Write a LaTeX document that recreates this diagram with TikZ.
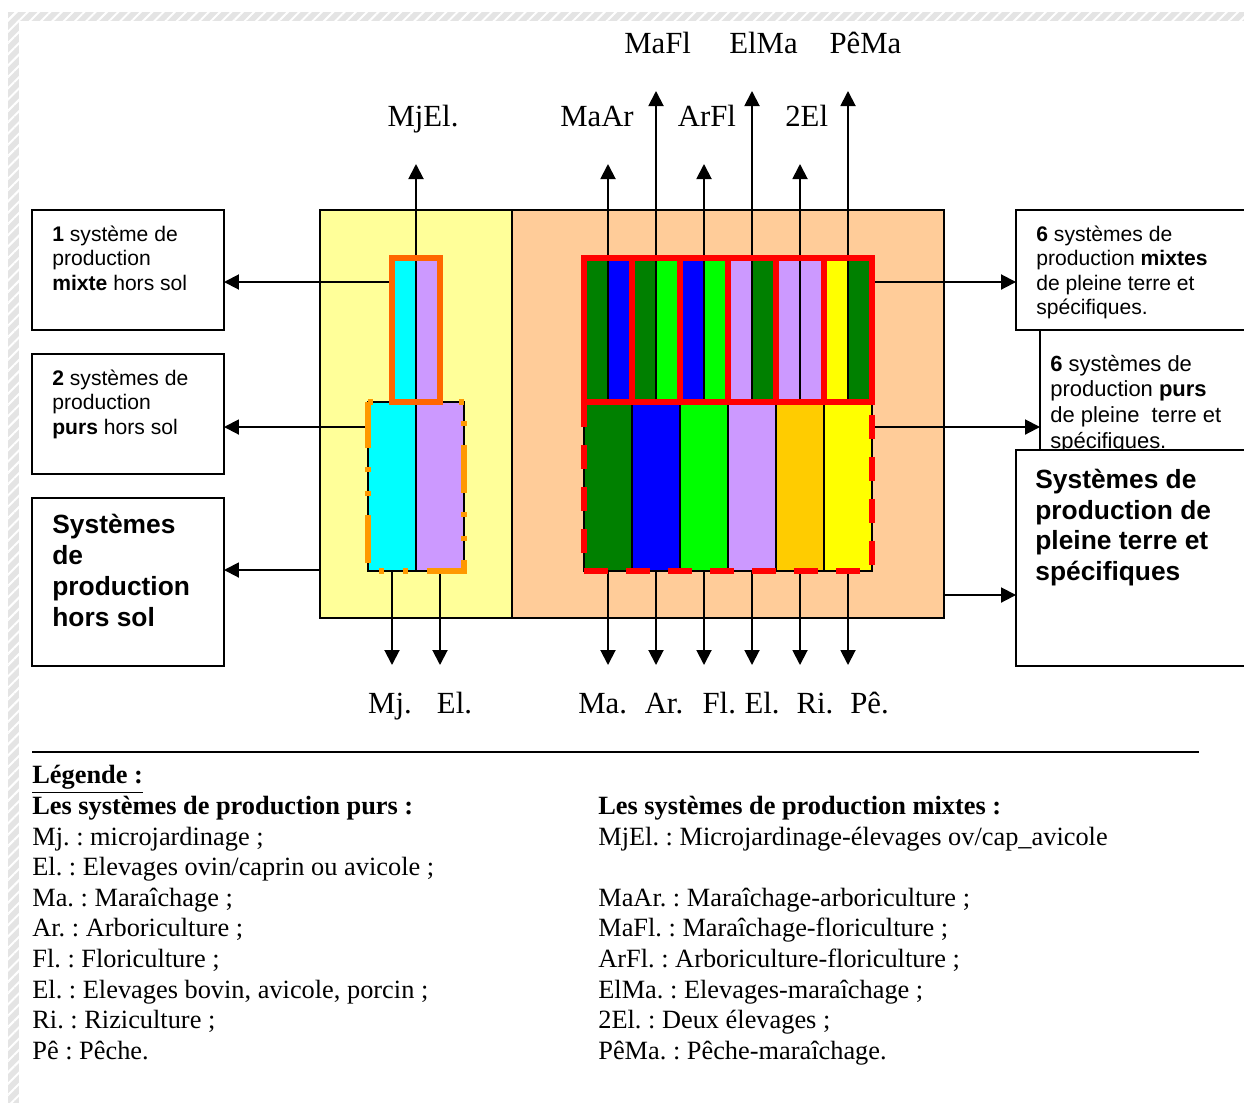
\documentclass[tikz,border=0pt]{standalone}
\usepackage{fontspec}
\setmainfont{Liberation Serif}
\setsansfont{Liberation Sans}
\usetikzlibrary{arrows.meta,patterns.meta,positioning,calc}
\frenchspacing

\definecolor{jauneclair}{HTML}{FFFF99}
\definecolor{peche}{HTML}{FFCC99}
\definecolor{cyanv}{HTML}{00FFFF}
\definecolor{lavande}{HTML}{CC99FF}
\definecolor{vertf}{HTML}{008000}
\definecolor{bleuv}{HTML}{0000FF}
\definecolor{vertc}{HTML}{00FF00}
\definecolor{ocre}{HTML}{FFCC00}
\definecolor{jaunev}{HTML}{FFFF00}
\definecolor{rougev}{HTML}{FF0000}
\definecolor{orangef}{HTML}{FF6600}
\definecolor{orangec}{HTML}{FF9900}
\definecolor{trame}{HTML}{E4E4E4}

\begin{document}
\begin{tikzpicture}[
    x=0.02cm, y=-0.02cm,
    fleche/.style={line width=1.1pt, -{Triangle[width=0.3cm,length=0.3cm]}},
    cadre/.style={draw=black, line width=1pt, inner sep=0pt, outer sep=0pt},
    colonne/.style={draw=black, line width=1.1pt},
    txtbox/.style={font=\sffamily\fontsize{12}{13.9}\selectfont, align=left, inner sep=0pt, anchor=base west},
    txtgras/.style={font=\sffamily\bfseries\fontsize{15}{17.5}\selectfont, align=left, inner sep=0pt, anchor=base west},
    etiq/.style={font=\fontsize{17.5}{20}\selectfont, inner sep=0pt, anchor=base},
    legende/.style={font=\fontsize{15}{17.4}\selectfont, align=left, inner sep=0pt, anchor=base west},
    bordrouge/.style={draw=rougev, line width=3.4pt},
    ]
    \useasboundingbox (0,0) rectangle (1244,1103);
    \clip (0,0) rectangle (1244,1103);
    \fill[white] (0,0) rectangle (1244,1103);

    % bordure de page hachuree
    \fill[trame] (8,12) rectangle (1244,21);
    \fill[trame] (8,12) rectangle (19,1103);
    \fill[pattern={Lines[angle=45,distance=0.16cm,line width=0.04cm]}, pattern color=white] (8,12) rectangle (1244,21);
    \fill[pattern={Lines[angle=45,distance=0.16cm,line width=0.04cm]}, pattern color=white] (8,12) rectangle (19,1103);

    % zones
    \node[cadre, fill=jauneclair, minimum width=3.84cm, minimum height=8.16cm] (zoneHS) at (416,414) {};
    \node[cadre, fill=peche, minimum width=8.64cm, minimum height=8.16cm] (zonePT) at (728,414) {};

    % cadres de gauche et de droite
    \node[cadre, minimum width=3.84cm, minimum height=2.4cm] (hsMixte) at (128,270) {};
    \node[cadre, minimum width=3.84cm, minimum height=2.4cm] (hsPurs) at (128,414) {};
    \node[cadre, minimum width=3.84cm, minimum height=3.36cm] (hsSys) at (128,582) {};
    \node[cadre, minimum width=5.08cm, minimum height=2.4cm] (ptMixte) at (1143,270) {};
    \node[cadre, minimum width=4.6cm, minimum height=2.4cm] (ptPurs) at (1155,390) {};
    \node[cadre, minimum width=5.08cm, minimum height=4.32cm] (ptSys) at (1143,558) {};

    % colonnes hors sol
    \fill[cyanv] (392,258) rectangle (416,402);
    \fill[lavande] (416,258) rectangle (440,402);
    \fill[cyanv] (368,402) rectangle (416,571);
    \fill[lavande] (416,402) rectangle (464,571);
    \draw[colonne] (368,402) rectangle (464,571);
    \draw[colonne] (416,402) -- (416,571);

    % colonnes de pleine terre
    \foreach \ga/\dr [count=\i from 0] in {vertf/bleuv, vertf/vertc, bleuv/vertc, lavande/vertf, lavande/lavande, jaunev/vertf}{
        \fill[\ga] ({584+48*\i},258) rectangle ({608+48*\i},402);
        \fill[\dr] ({608+48*\i},258) rectangle ({632+48*\i},402);
    }
    \foreach \c [count=\i from 0] in {vertf, bleuv, vertc, lavande, ocre, jaunev}
        \fill[\c] ({584+48*\i},402) rectangle ({632+48*\i},571);
    \draw[colonne] (584,402) rectangle (872,571);
    \foreach \x in {632,680,...,824}
        \draw[colonne] (\x,402) -- (\x,571);

    % fleches vers le haut
    \coordinate (bMjEl) at (416,402);
    \coordinate (hMjEl) at (416,164);
    \draw[fleche] (bMjEl) -- (hMjEl);
    \node[etiq] (lMjEl) at (423,126.7) {MjEl.};
    \foreach \nom/\txt/\x/\yh/\yl/\xl in {MaAr/MaAr/608/164/126.7/597, MaFl/MaFl/656/91/53.3/657.7, ArFl/ArFl/704/164/126.7/707, ElMa/ElMa/752/91/53.3/763.5, DeuxEl/2El/800/164/126.7/806.7, PeMa/PêMa/848/91/53.3/865.5}{
        \coordinate (b\nom) at (\x,402);
        \coordinate (h\nom) at (\x,\yh);
        \draw[fleche] (b\nom) -- (h\nom);
        \node[etiq] (l\nom) at (\xl,\yl) {\txt};
    }

    % fleches vers le bas
    \foreach \nom/\txt/\x/\xl in {Mj/Mj./392/390, El/El./440/454.5, Ma/Ma./608/602.7, Ar/Ar./656/664, Fl/Fl./704/719.3, Elb/El./752/762, Ri/Ri./800/815, Pe/Pê./848/869.6}{
        \coordinate (s\nom) at (\x,571);
        \coordinate (t\nom) at (\x,665);
        \draw[fleche] (s\nom) -- (t\nom);
        \node[etiq] (e\nom) at (\xl,713.3) {\txt};
    }

    % fleches laterales
    \coordinate (gMixte) at (392,282);
    \coordinate (gPurs) at (368,427);
    \coordinate (gSys) at (zoneHS.west |- 0,570);
    \coordinate (dMixte) at (872,282);
    \coordinate (dPurs) at (872,427);
    \coordinate (dSys) at (zonePT.east |- 0,595);
    \draw[fleche] (gMixte) -- (gMixte -| hsMixte.east);
    \draw[fleche] (gPurs) -- (gPurs -| hsPurs.east);
    \draw[fleche] (gSys) -- (gSys -| hsSys.east);
    \draw[fleche] (dMixte) -- (dMixte -| ptMixte.west);
    \draw[fleche] (dPurs) -- (dPurs -| ptPurs.west);
    \draw[fleche] (dSys) -- (dSys -| ptSys.west);

    % contours colores
    \draw[bordrouge, dash pattern=on 0.48cm off 0.36cm, dash phase=0.7cm] (584,402) -- (872,402) -- (872,571) -- (584,571) -- cycle;
    \draw[bordrouge] (584,258) rectangle (872,402);
    \foreach \x in {632,680,...,824}
        \draw[bordrouge] (\x,258) -- (\x,402);
    \draw[orangec, line width=3.4pt, dash pattern=on 0.96cm off 0.38cm on 0.1cm off 0.38cm on 0.1cm off 0.38cm, dash phase=1.82cm] (368,402) -- (464,402) -- (464,571) -- (368,571) -- cycle;
    \draw[orangef, line width=3.4pt] (392,258) rectangle (440,402);

    % textes des cadres (ancre sur la derniere ligne)
    \node[txtbox] (tMixte) at ([xshift=0.4cm, yshift=-1.6cm]hsMixte.north west) {\textbf{1} système de\\production\\\textbf{mixte} hors sol};
    \node[txtbox] (tPurs) at ([xshift=0.4cm, yshift=-1.6cm]hsPurs.north west) {\textbf{2} systèmes de\\production\\\textbf{purs} hors sol};
    \node[txtgras] (tSys) at ([xshift=0.4cm, yshift=-2.56cm]hsSys.north west) {Systèmes\\de\\production\\hors sol};
    \node[txtbox] (tptMixte) at ([xshift=0.4cm, yshift=-2.09cm]ptMixte.north west) {\textbf{6} systèmes de\\production \textbf{mixtes}\\de pleine terre et\\spécifiques.};
    \begin{scope}
        \clip (ptPurs.north west) rectangle (ptPurs.south east);
        \node[txtbox, font=\sffamily\fontsize{12.5}{14.6}\selectfont] (tptPurs) at ([xshift=0.2cm, yshift=-2.36cm]ptPurs.north west) {\textbf{6} systèmes de\\production \textbf{purs}\\de pleine\ \ terre et\\spécifiques.};
    \end{scope}
    \node[txtgras] (tptSys) at ([xshift=0.38cm, yshift=-2.61cm]ptSys.north west) {Systèmes de\\production de\\pleine terre et\\spécifiques};

    % legende
    \draw[line width=0.6pt] (32,752) -- (1199,752);
    \node[legende, font=\bfseries\fontsize{15}{17.4}\selectfont] (legTitre) at (32,783.8) {\underline{Légende :}};
    \node[legende] (legPurs) at (32,1059.2) {\textbf{Les systèmes de production purs :}\\Mj. : microjardinage ;\\El. : Elevages ovin/caprin ou avicole ;\\Ma. : Maraîchage ;\\Ar. : Arboriculture ;\\Fl. : Floriculture ;\\El. : Elevages bovin, avicole, porcin ;\\Ri. : Riziculture ;\\Pê : Pêche.};
    \node[legende] (legMixtes) at (598,1059.2) {\textbf{Les systèmes de production mixtes :}\\MjEl. : Microjardinage-élevages ov/cap\_avicole\\[17.4pt]MaAr. : Maraîchage-arboriculture ;\\MaFl. : Maraîchage-floriculture ;\\ArFl. : Arboriculture-floriculture ;\\ElMa. : Elevages-maraîchage ;\\2El. : Deux élevages ;\\PêMa. : Pêche-maraîchage.};
\end{tikzpicture}
\end{document}
